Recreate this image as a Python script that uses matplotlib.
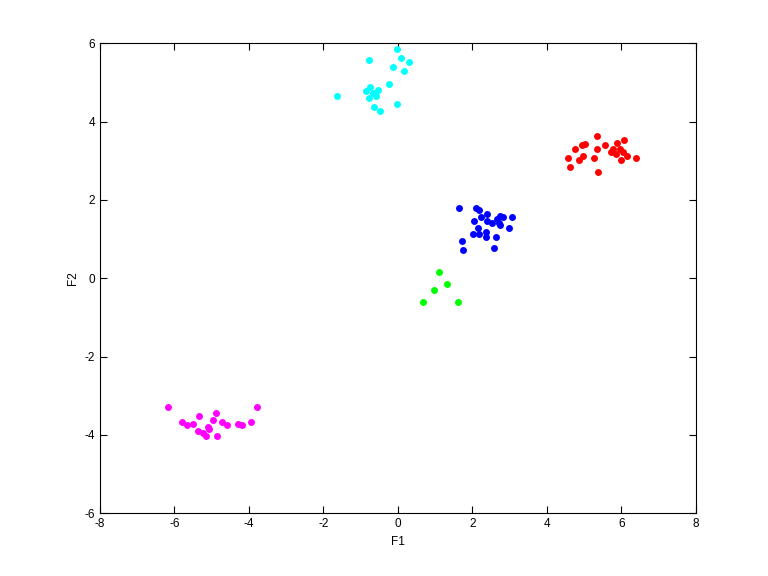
import numpy as np
import matplotlib
matplotlib.use("Agg")
import matplotlib.pyplot as plt

plt.rcParams['font.family'] = ['Liberation Sans', 'DejaVu Sans']
plt.rcParams['axes.unicode_minus'] = False

# cluster points (F1, F2)
cyan_x = [-0.02, -0.77, 0.09, 0.30, -0.13, 0.17, -0.23, -1.63, -0.74, -0.85,
          -0.53, -0.66, -0.59, -0.77, -0.64, -0.48, -0.02]
cyan_y = [5.86, 5.58, 5.61, 5.51, 5.38, 5.30, 4.97, 4.64, 4.89, 4.77,
          4.81, 4.72, 4.65, 4.59, 4.37, 4.26, 4.46]

red_x = [5.35, 6.08, 4.76, 4.95, 5.03, 5.57, 5.35, 5.89, 5.78, 5.73, 5.97,
         6.05, 6.16, 5.86, 6.00, 6.40, 4.57, 4.87, 4.97, 5.27, 4.63, 5.38]
red_y = [3.64, 3.54, 3.31, 3.39, 3.42, 3.39, 3.29, 3.46, 3.31, 3.21, 3.29,
         3.21, 3.13, 3.16, 3.03, 3.08, 3.06, 3.03, 3.11, 3.06, 2.85, 2.72]

blue_x = [1.65, 2.10, 2.18, 2.24, 2.40, 2.05, 2.40, 2.53, 2.67, 2.75, 2.83, 3.07,
          2.72, 2.75, 2.99, 2.16, 2.02, 2.18, 2.37, 2.37, 2.64, 1.73, 1.75, 2.59]
blue_y = [1.78, 1.78, 1.73, 1.55, 1.65, 1.45, 1.47, 1.42, 1.52, 1.60, 1.55, 1.55,
          1.40, 1.35, 1.29, 1.27, 1.14, 1.14, 1.19, 1.06, 1.04, 0.94, 0.73, 0.78]

green_x = [1.11, 1.32, 0.97, 0.68, 1.62]
green_y = [0.17, -0.14, -0.29, -0.60, -0.60]

magenta_x = [-6.17, -3.78, -4.88, -5.33, -4.96, -5.79, -5.66, -5.50, -4.72, -4.58,
             -4.29, -4.18, -3.94, -5.09, -5.07, -5.36, -5.23, -5.15, -4.85]
magenta_y = [-3.28, -3.30, -3.45, -3.53, -3.63, -3.66, -3.76, -3.71, -3.68, -3.76,
             -3.73, -3.76, -3.68, -3.81, -3.86, -3.91, -3.96, -4.02, -4.02]

fig = plt.figure(figsize=(7.68, 5.76), dpi=100)
ax = fig.add_axes([0.130, 0.109, 0.776, 0.816])

groups = [(cyan_x, cyan_y, '#00ffff'), (red_x, red_y, '#ff0000'),
          (blue_x, blue_y, '#0000ff'), (green_x, green_y, '#00ff00'),
          (magenta_x, magenta_y, '#ff00ff')]
for gx, gy, c in groups:
    ax.plot(gx, gy, 'o', color=c, markersize=5, markeredgewidth=0)

ax.set_xlim(-8, 8)
ax.set_ylim(-6, 6)
ax.set_xticks(np.arange(-8, 9, 2))
ax.set_yticks(np.arange(-6, 7, 2))
ax.tick_params(direction='in', top=True, right=True, labelsize=8.5, length=5)
ax.set_xlabel('F1', fontsize=8.5)
ax.set_ylabel('F2', fontsize=8.5)

fig.savefig('out.png', dpi=100)
